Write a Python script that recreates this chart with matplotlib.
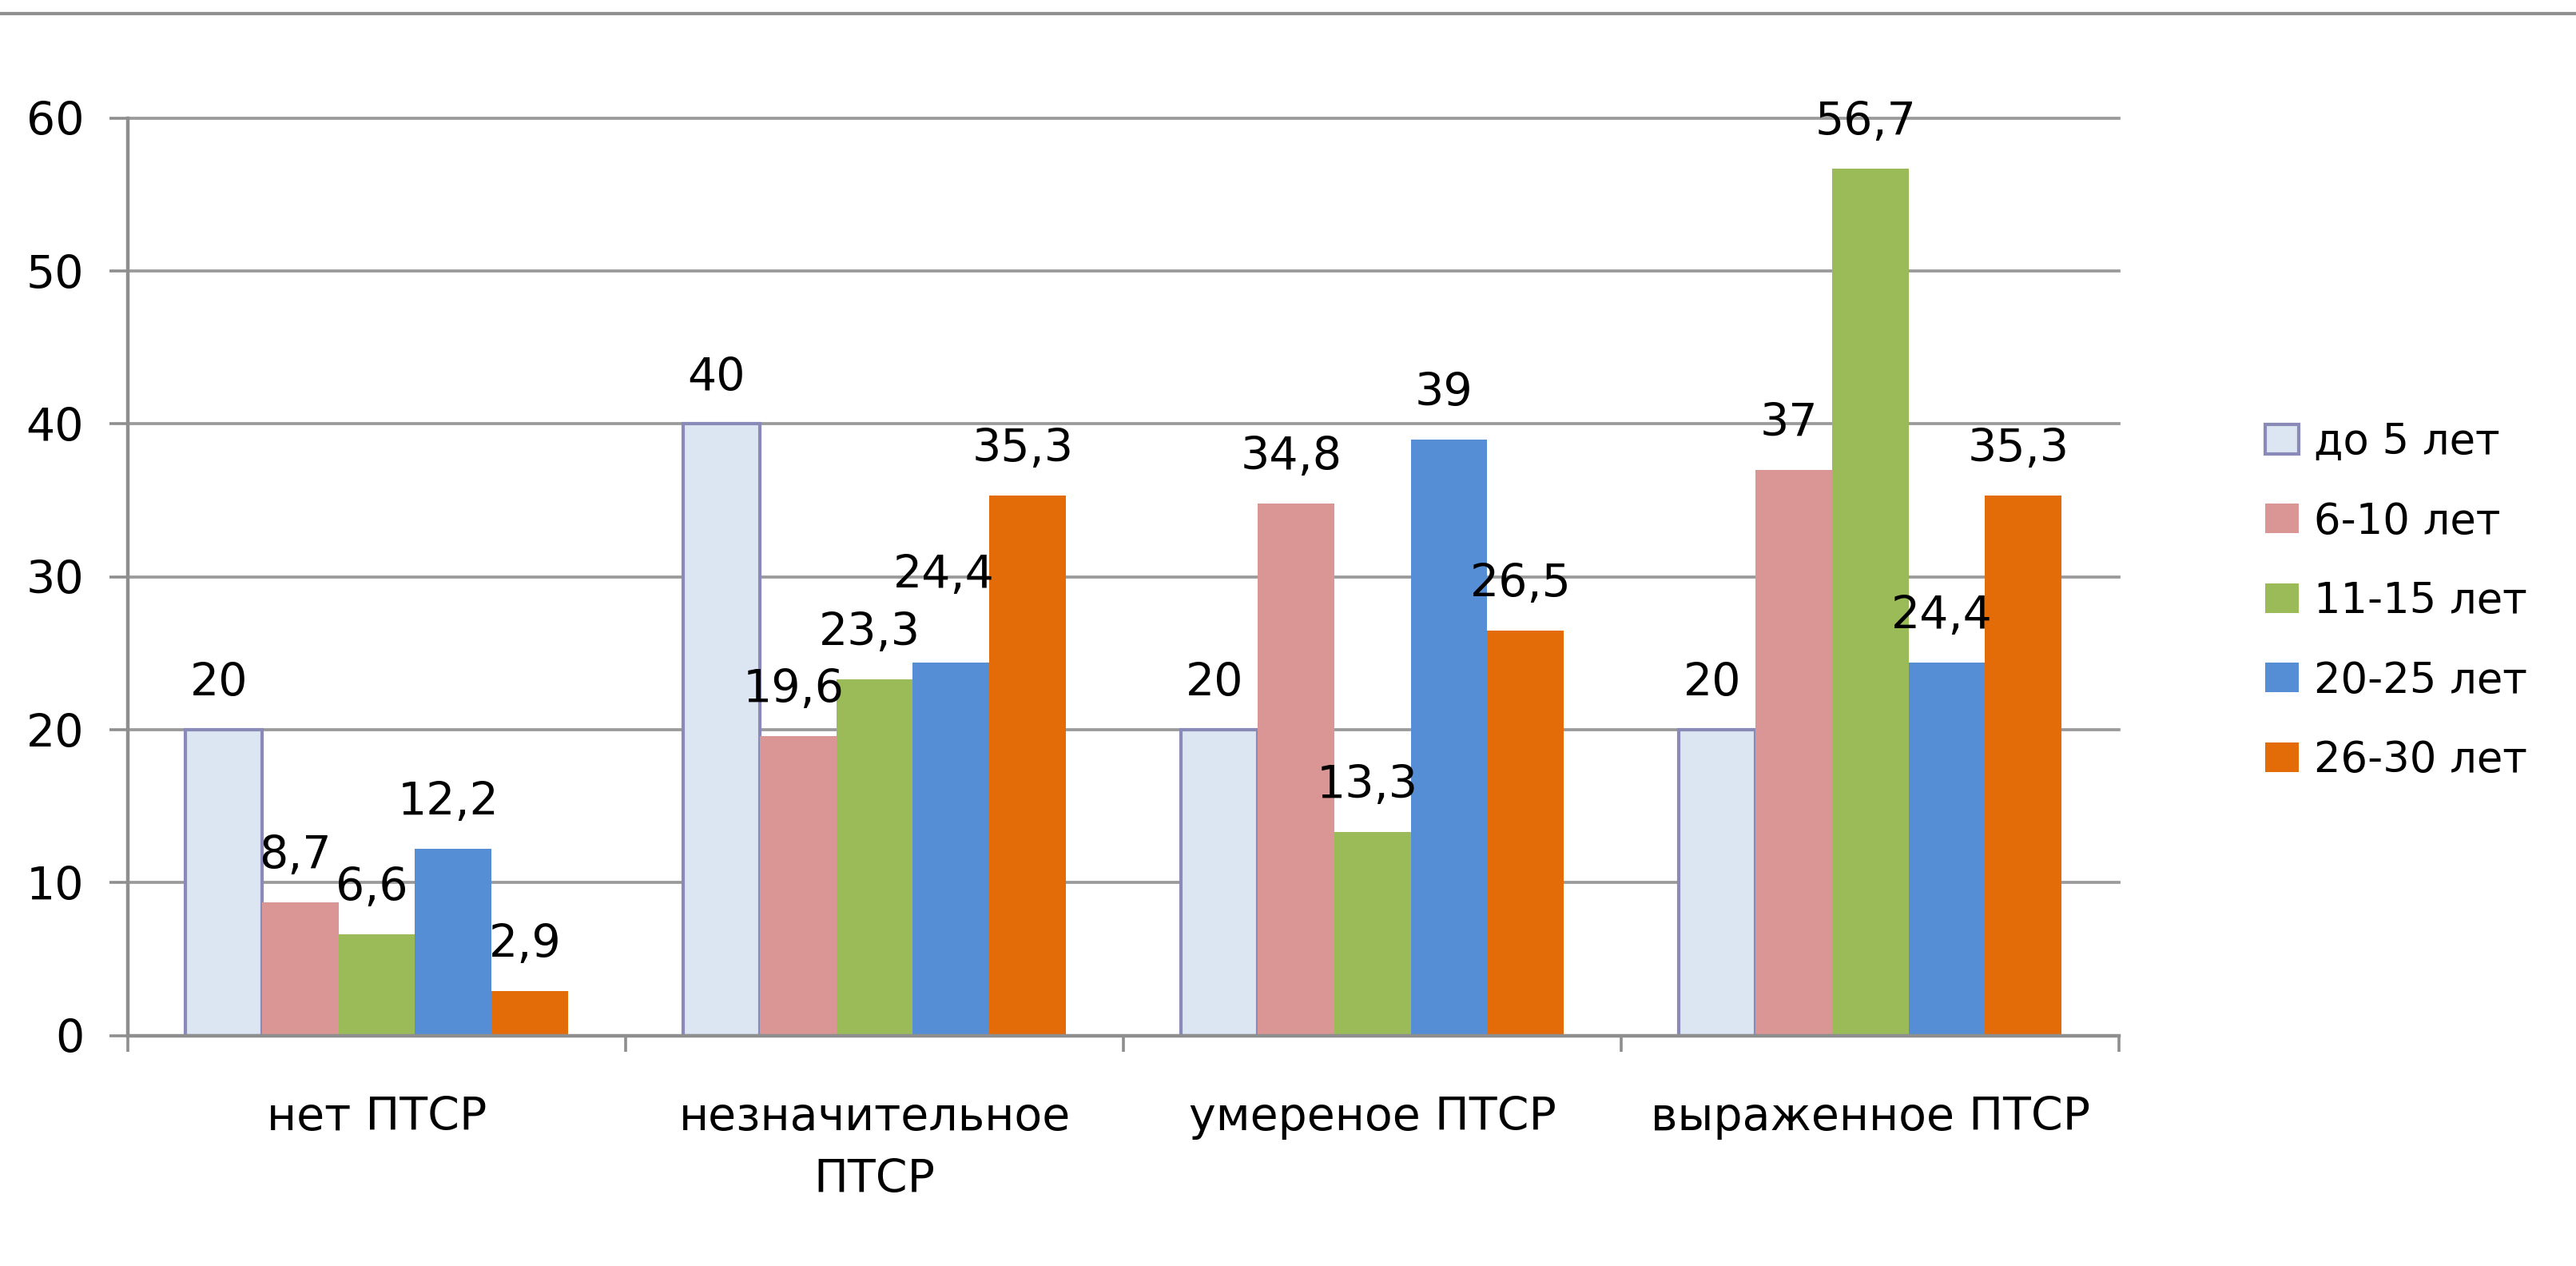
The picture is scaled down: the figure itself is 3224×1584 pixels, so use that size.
import matplotlib
matplotlib.use("Agg")
import matplotlib.pyplot as plt
import numpy as np
from matplotlib.lines import Line2D

# --- data -------------------------------------------------------------
categories = ["нет ПТСР", "незначительное\nПТСР", "умереное ПТСР", "выраженное ПТСР"]
series_names = ["до 5 лет", "6-10 лет", "11-15 лет", "20-25 лет", "26-30 лет"]
upto_5 = [20, 40, 20, 20]
years_6_10 = [8.7, 19.6, 34.8, 37]
years_11_15 = [6.6, 23.3, 13.3, 56.7]
years_20_25 = [12.2, 24.4, 39, 24.4]
years_26_30 = [2.9, 35.3, 26.5, 35.3]
series_values = [upto_5, years_6_10, years_11_15, years_20_25, years_26_30]
y_ticks = [0, 10, 20, 30, 40, 50, 60]

# --- style ------------------------------------------------------------
fills = ["#DCE6F2", "#D99694", "#9BBB59", "#558ED5", "#E36C09"]
edges = ["#8A8AB8", "#D99694", "#9BBB59", "#558ED5", "#E36C09"]
edge_widths = [3.0, 0.0, 0.0, 0.0, 0.0]
axis_grey = "#8E8E8E"
grid_grey = "#9A9A9A"
plt.rcParams["font.family"] = ["DejaVu Sans"]

fig = plt.figure(figsize=(32.24, 15.84), dpi=100)
ax = fig.add_axes([0.04963, 0.1821, 0.7730, 0.7245])

# thin rule across the top of the figure
fig.add_artist(Line2D([0, 1], [0.9893, 0.9893], transform=fig.transFigure,
                      color="#909090", lw=3.0))

n_series = len(series_values)
bar_w = 1.0 / (n_series + 1.5)          # 150 % gap between groups
centers = np.arange(len(categories)) + 0.5

# label nudges (points) for crowded spots: (series, category) -> (dx, dy)
label_nudge = {(3, 1): (-2.0, 36.7)}

for j, (vals, name) in enumerate(zip(series_values, series_names)):
    xs = centers + (j - (n_series - 1) / 2) * bar_w
    ax.bar(xs, vals, bar_w, color=fills[j], edgecolor=edges[j],
           linewidth=edge_widths[j], label=name, zorder=2)
    for i, (xv, v) in enumerate(zip(xs, vals)):
        dx, dy = label_nudge.get((j, i), (0.0, 0.0))
        ax.annotate(f"{v:g}".replace(".", ","), xy=(xv, v),
                    xytext=(-4.3 + dx, 30.2 + dy), textcoords="offset points",
                    ha="center", va="baseline", fontsize=41, color="black",
                    zorder=5)

# axes limits and ticks
ax.set_xlim(0, len(categories))
ax.set_ylim(0, 60)
ax.set_yticks(y_ticks)
ax.set_yticklabels([str(t) for t in y_ticks])
ax.set_xticks(np.arange(len(categories) + 1))
ax.set_xticklabels([])
ax.set_xticks(centers, minor=True)
ax.set_xticklabels(categories, minor=True, linespacing=1.55)

ax.tick_params(axis="x", which="major", direction="out", length=14.4,
               width=2.6, color=axis_grey)
ax.tick_params(axis="x", which="minor", length=0, pad=54, labelsize=41)
ax.tick_params(axis="y", direction="out", length=16.6, width=2.6,
               color=axis_grey, pad=23, labelsize=41)

for side in ("top", "right"):
    ax.spines[side].set_visible(False)
for side in ("left", "bottom"):
    ax.spines[side].set_color(axis_grey)
    ax.spines[side].set_linewidth(3.2)

ax.set_axisbelow(True)
ax.yaxis.grid(True, color=grid_grey, linewidth=2.7)
ax.xaxis.grid(False)
for gl in ax.yaxis.get_gridlines():
    gl.set_clip_on(False)

ax.legend(loc="center left", bbox_to_anchor=(0.8793, 0.5253),
          bbox_transform=fig.transFigure, frameon=False, fontsize=38,
          handlelength=0.8, handleheight=0.7, handletextpad=0.35,
          labelspacing=0.9, borderpad=0, borderaxespad=0)

fig.savefig("out.png", dpi=100, facecolor="white")
